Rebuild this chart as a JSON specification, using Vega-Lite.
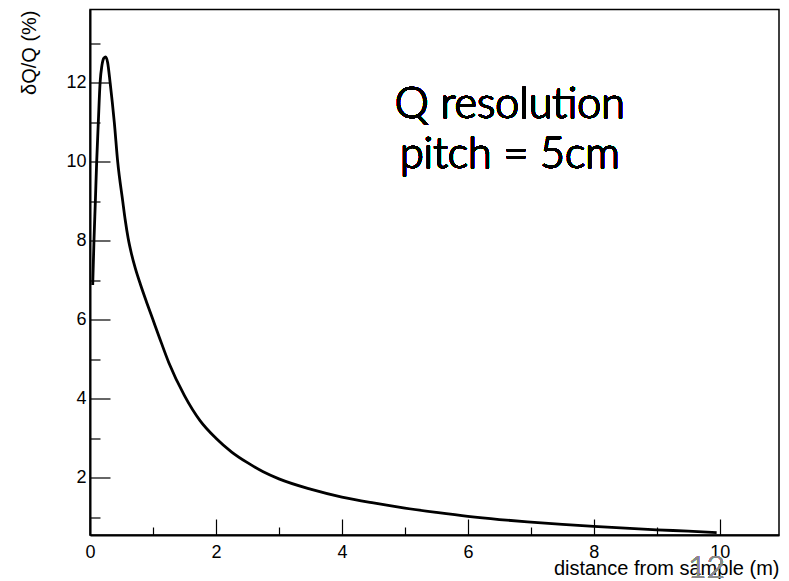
{
  "$schema": "https://vega.github.io/schema/vega-lite/v6.json",
  "autosize": "none",
  "width": 689,
  "height": 525.5,
  "padding": {"left": 90, "top": 9.5, "right": 10, "bottom": 46},
  "background": "white",
  "config": {
    "view": {"stroke": "#000", "strokeWidth": 1.5},
    "axis": {
      "domainColor": "#000",
      "domainWidth": 2,
      "tickColor": "#000",
      "tickWidth": 1.2,
      "grid": false,
      "labelFont": "Liberation Sans",
      "labelFontSize": 18,
      "labelColor": "#000",
      "titleFont": "Liberation Sans",
      "titleFontSize": 20,
      "titleFontWeight": "normal",
      "titleColor": "#000"
    }
  },
  "data": {
    "values": [
      {"distance": 0.043, "dq": 6.88},
      {"distance": 0.063, "dq": 8.0},
      {"distance": 0.085, "dq": 9.0},
      {"distance": 0.106, "dq": 10.0},
      {"distance": 0.132, "dq": 11.0},
      {"distance": 0.16, "dq": 12.0},
      {"distance": 0.19, "dq": 12.45},
      {"distance": 0.22, "dq": 12.63},
      {"distance": 0.249, "dq": 12.66},
      {"distance": 0.28, "dq": 12.52},
      {"distance": 0.32, "dq": 12.0},
      {"distance": 0.386, "dq": 11.0},
      {"distance": 0.44, "dq": 10.0},
      {"distance": 0.52, "dq": 9.0},
      {"distance": 0.56, "dq": 8.52},
      {"distance": 0.605, "dq": 8.07},
      {"distance": 0.66, "dq": 7.66},
      {"distance": 0.72, "dq": 7.3},
      {"distance": 0.8, "dq": 6.9},
      {"distance": 0.9, "dq": 6.44},
      {"distance": 1.0, "dq": 6.0},
      {"distance": 1.1, "dq": 5.56},
      {"distance": 1.25, "dq": 4.92},
      {"distance": 1.5, "dq": 4.08},
      {"distance": 1.75, "dq": 3.44},
      {"distance": 2.0, "dq": 3.0},
      {"distance": 2.25, "dq": 2.65},
      {"distance": 2.5, "dq": 2.38},
      {"distance": 2.75, "dq": 2.15},
      {"distance": 3.0, "dq": 1.97},
      {"distance": 3.5, "dq": 1.71},
      {"distance": 4.0, "dq": 1.51},
      {"distance": 4.5, "dq": 1.36},
      {"distance": 5.0, "dq": 1.23},
      {"distance": 5.5, "dq": 1.12},
      {"distance": 6.0, "dq": 1.02},
      {"distance": 6.5, "dq": 0.94},
      {"distance": 7.0, "dq": 0.875},
      {"distance": 7.5, "dq": 0.815},
      {"distance": 8.0, "dq": 0.765},
      {"distance": 8.5, "dq": 0.72},
      {"distance": 9.0, "dq": 0.68},
      {"distance": 9.5, "dq": 0.645},
      {"distance": 9.95, "dq": 0.61}
    ]
  },
  "layer": [
    {
      "mark": {"type": "line", "color": "#000", "strokeWidth": 2.8, "interpolate": "monotone"},
      "encoding": {
        "x": {
          "field": "distance",
          "type": "quantitative",
          "scale": {"domain": [0, 10.94], "nice": false, "zero": false},
          "axis": {
            "title": "distance from sample (m)",
            "values": [0, 0.5, 1, 1.5, 2, 2.5, 3, 3.5, 4, 4.5, 5, 5.5, 6, 6.5, 7, 7.5, 8, 8.5, 9, 9.5, 10, 10.5],
            "format": "d",
            "labelExpr": "datum.value % 2 === 0 ? datum.label : ''",
            "tickSize": {"condition": {"test": "datum.value % 2 === 0", "value": -16}, "value": -8},
            "labelPadding": 24,
            "labelFlush": false,
            "labelOverlap": false,
            "titleAnchor": "end",
            "titleAlign": "right",
            "titleBaseline": "alphabetic",
            "titleX": 689,
            "titleY": 39
          }
        },
        "y": {
          "field": "dq",
          "type": "quantitative",
          "scale": {"domain": [0.548, 13.86], "nice": false, "zero": false},
          "axis": {
            "title": "δQ/Q (%)",
            "values": [1, 1.5, 2, 2.5, 3, 3.5, 4, 4.5, 5, 5.5, 6, 6.5, 7, 7.5, 8, 8.5, 9, 9.5, 10, 10.5, 11, 11.5, 12, 12.5, 13, 13.5],
            "format": "d",
            "labelExpr": "datum.value % 2 === 0 ? datum.label : ''",
            "tickSize": {"condition": {"test": "datum.value % 2 === 0", "value": -20}, "value": -10},
            "labelPadding": 24,
            "labelFlush": false,
            "labelOverlap": false,
            "titleAnchor": "end",
            "titleAlign": "right",
            "titleAngle": -90,
            "titleBaseline": "alphabetic",
            "titleX": -55,
            "titleY": 0.5
          }
        }
      }
    },
    {
      "mark": {"type": "text", "font": "Lato", "fontSize": 43, "fontWeight": 300, "color": "#000", "stroke": "#000", "strokeWidth": 0.6, "align": "center", "baseline": "alphabetic", "lineHeight": 50},
      "encoding": {
        "x": {"datum": 6.667, "type": "quantitative"},
        "y": {"datum": 11.105, "type": "quantitative"},
        "text": {"value": ["Q resolution", "pitch = 5cm"]}
      }
    },
    {
      "mark": {"type": "text", "font": "Lato", "fontSize": 32, "fontWeight": 300, "color": "#8a8a8a", "opacity": 0.85, "align": "center", "baseline": "alphabetic", "clip": false},
      "encoding": {
        "x": {"datum": 9.79, "type": "quantitative"},
        "y": {"datum": -0.54, "type": "quantitative"},
        "text": {"value": "12"}
      }
    }
  ]
}
